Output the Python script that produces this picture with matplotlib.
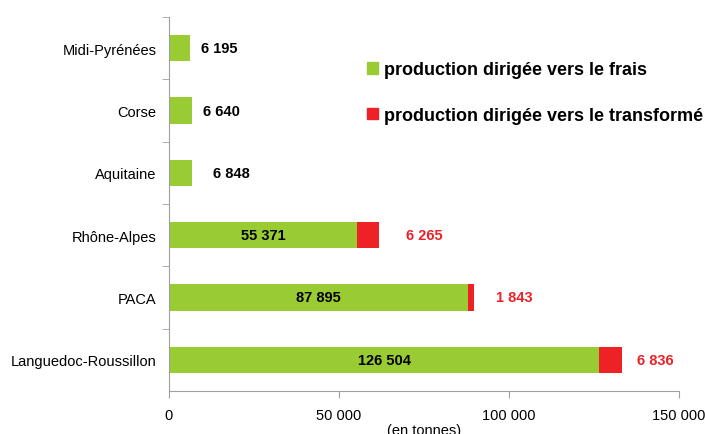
import matplotlib.pyplot as plt
from matplotlib.patches import Patch

plt.rcParams['font.family'] = ['Liberation Sans', 'DejaVu Sans']

regions = ['Midi-Pyrénées', 'Corse', 'Aquitaine', 'Rhône-Alpes', 'PACA', 'Languedoc-Roussillon']
frais = [6195, 6640, 6848, 55371, 87895, 126504]
transforme = [0, 0, 0, 6265, 1843, 6836]
xticks = [0, 50000, 100000, 150000]
xtick_labels = ['0', '50 000', '100 000', '150 000']

green = '#99cc33'
red = '#ee2127'

def fmt(v):
    return '{:,}'.format(v).replace(',', ' ')

fig = plt.figure(figsize=(7.05, 4.35), dpi=100)
ax = fig.add_axes([0.2397, 0.0989, 0.7233, 0.8597])

ypos = list(range(len(regions)))[::-1]
ax.barh(ypos, frais, height=0.42, color=green)
ax.barh(ypos, transforme, left=frais, height=0.42, color=red)

# green labels: outside for small bars, centred for big ones
small_off = [3150, 3500, 6200]
for i in range(len(regions)):
    if transforme[i] == 0:
        ax.text(frais[i] + small_off[i], ypos[i], fmt(frais[i]), ha='left', va='center',
                fontsize=10.5, fontweight='bold', color='black')
    else:
        ax.text(frais[i] / 2, ypos[i], fmt(frais[i]), ha='center', va='center',
                fontsize=10.5, fontweight='bold', color='black')

red_off = [8000, 6500, 4200]
k = 0
for i in range(len(regions)):
    if transforme[i] > 0:
        ax.text(frais[i] + transforme[i] + red_off[k], ypos[i], fmt(transforme[i]),
                ha='left', va='center', fontsize=10.5, fontweight='bold', color=red)
        k += 1

ax.set_xlim(0, 150000)
ax.set_ylim(-0.5, len(regions) - 0.5)
ax.set_xticks(xticks)
ax.set_xticklabels(xtick_labels, fontsize=10.5)
ax.set_yticks(ypos)
ax.set_yticklabels(regions, fontsize=10.5)
ax.tick_params(axis='y', length=0, pad=9)
ax.set_yticks([y + 0.5 for y in range(len(regions))], minor=True)
ax.tick_params(axis='y', which='minor', length=5, color='#a0a0a0')
ax.tick_params(axis='x', length=5, color='#a0a0a0', pad=7)
for s in ['top', 'right']:
    ax.spines[s].set_visible(False)
for s in ['left', 'bottom']:
    ax.spines[s].set_color('#a0a0a0')
ax.set_xlabel('(en tonnes)', fontsize=10.5, labelpad=1)

handles = [Patch(color=green, label='production dirigée vers le frais'),
           Patch(color=red, label='production dirigée vers le transformé')]
leg = fig.legend(handles=handles, loc='upper left', bbox_to_anchor=(0.497, 0.894),
                 frameon=False, handlelength=0.62, handleheight=0.62, handletextpad=0.33,
                 labelspacing=1.58, prop={'size': 13, 'weight': 'bold'})

fig.savefig('out.png', dpi=100)
